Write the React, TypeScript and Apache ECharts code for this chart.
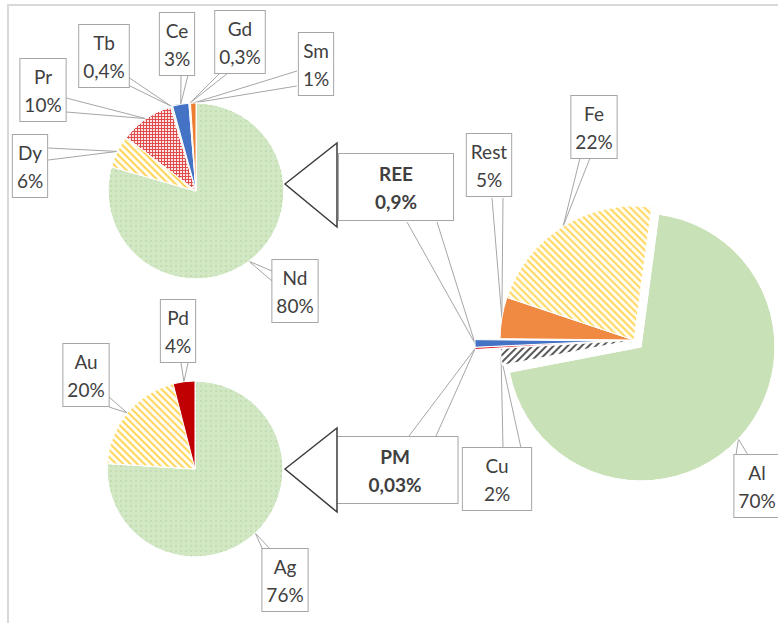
import React, { useEffect, useRef } from 'react';
import * as echarts from 'echarts';

// Rare earth elements split
const reeNames = ['Nd', 'Dy', 'Pr', 'Tb', 'Ce', 'Gd', 'Sm'];
const reeValues = [80, 6, 10, 0.4, 3, 0.3, 1];

// Precious metals split
const pmNames = ['Ag', 'Au', 'Pd'];
const pmValues = [76, 20, 4];

// Overall scrap composition
const scrapNames = ['Al', 'Cu', 'PM', 'REE', 'Rest', 'Fe'];
const scrapValues = [70, 2, 0.03, 0.9, 5, 22];

// Callout box centres in pixels
const calloutPos: Record<string, [number, number]> = {
  Nd: [295, 291], Dy: [30, 166], Pr: [43, 90], Tb: [104, 56], Ce: [177, 44], Gd: [240, 42], Sm: [316, 64],
  Ag: [285, 580], Au: [86, 375], Pd: [178, 331],
  Al: [757, 486], Cu: [497, 479], PM: [395, 470], REE: [396, 187], Rest: [489, 165], Fe: [594, 127],
};

// Where the two sides of each callout pointer meet the callout box
const pointerBase: Record<string, [[number, number], [number, number]]> = {
  Tb: [[128, 76], [128, 84]],
  Pr: [[66, 98], [66, 112]],
  Dy: [[48, 148], [48, 160]],
  Ce: [[181, 74], [188, 74]],
  Gd: [[220, 72], [228, 72]],
  Sm: [[297, 70], [297, 86]],
  Nd: [[272, 272], [272, 282]],
  Pd: [[181, 362], [188, 362]],
  Au: [[109, 396], [109, 406]],
  Ag: [[263, 551], [271, 551]],
  REE: [[407, 221], [437, 221]],
  PM: [[409, 437], [436, 437]],
  Rest: [[492, 197], [503, 197]],
  Cu: [[503, 449], [521, 449]],
  Fe: [[580, 157], [590, 157]],
  Al: [[736, 456], [748, 456]],
};

const stripes = (color: string, rotation: number, w = 2, gap = 3) => ({
  symbol: 'rect', color, dashArrayX: [1, 0], dashArrayY: [w, gap], rotation,
});

const greenFine = { symbol: 'rect', color: 'rgba(120,180,90,0.18)', dashArrayX: [2, 3], dashArrayY: [2, 3] };

const sliceStyle: Record<string, any> = {
  Nd: { color: '#d2e8c4', decal: greenFine },
  Dy: { color: '#fffdf4', decal: stripes('#ffd65c', Math.PI / 4) },
  Pr: { color: '#e04c4c', decal: { symbol: 'rect', color: 'rgba(255,255,255,0.85)', dashArrayX: [2, 1], dashArrayY: [2, 1] } },
  Tb: { color: '#f0f0f0' },
  Ce: { color: '#4472c4' },
  Gd: { color: '#fbfbfb' },
  Sm: { color: '#ed7d31' },
  Ag: { color: '#d2e8c4', decal: greenFine },
  Au: { color: '#fffdf4', decal: stripes('#ffd65c', Math.PI / 4) },
  Pd: { color: '#c00000' },
  Al: { color: '#c8e1b7', decal: { symbol: 'rect', color: 'rgba(110,175,80,0.3)', dashArrayX: [[6, 8]], dashArrayY: [[4, 9]] } },
  Cu: { color: '#ffffff', decal: stripes('#5a5a5a', -Math.PI / 4, 2, 3) },
  PM: { color: '#e0303a' },
  REE: { color: '#4472c4' },
  Rest: { color: '#f08a42' },
  Fe: { color: '#fffcee', decal: stripes('#ffd966', Math.PI / 4, 1.5, 3) },
};

const boldNames = ['REE', 'PM'];
const fmtPct = (v: number) => `${String(v).replace('.', ',')}%`;

interface PieOpts {
  center: [number, number];
  radius: number;
  startAngle: number;
  visible?: string[];
  minAngle?: number;
}

const hiddenItem = (name: string, value: number) => ({
  name,
  value,
  itemStyle: { color: 'rgba(0,0,0,0)', borderWidth: 0, decal: 'none' },
  label: { show: false },
  labelLine: { show: false },
});

// mode 'main' draws slices and callout boxes; 0 / 1 draw one side of each callout pointer
function pieSeries(names: string[], values: number[], o: PieOpts, mode: 'main' | 0 | 1) {
  const shown = (n: string) => !o.visible || o.visible.includes(n);
  const main = mode === 'main';
  return {
    type: 'pie',
    z: main ? 3 : 2,
    center: o.center,
    radius: o.radius,
    startAngle: o.startAngle,
    clockwise: true,
    minAngle: o.minAngle || 0,
    silent: true,
    avoidLabelOverlap: false,
    selectedMode: false,
    label: main
      ? {
          show: true,
          position: 'outside',
          formatter: (p: any) => `${p.name}\n${fmtPct(p.value)}`,
          color: '#404040',
          fontFamily: 'Lato',
          fontSize: 19,
          lineHeight: 28,
          backgroundColor: '#ffffff',
          borderColor: '#a6a6a6',
          borderWidth: 1,
          padding: [4, 4, 2, 4],
          align: 'center',
        }
      : {
          show: true,
          position: 'outside',
          formatter: ' ',
          color: 'rgba(0,0,0,0)',
          fontSize: 2,
          lineHeight: 2,
          padding: 0,
        },
    labelLine: {
      show: !main,
      length: 4,
      length2: 0,
      smooth: false,
      lineStyle: { color: '#a6a6a6', width: 1 },
    },
    labelLayout: (p: any) => {
      const name = names[p.dataIndex];
      if (main) {
        const pos = calloutPos[name];
        if (!pos) return {};
        return { x: pos[0], y: pos[1], align: 'center', verticalAlign: 'middle' };
      }
      const base = pointerBase[name];
      if (!base) return {};
      const pt = base[mode as number];
      return { x: pt[0], y: pt[1], align: 'center', verticalAlign: 'middle' };
    },
    data: names.map((n, i) => {
      if (!shown(n)) return hiddenItem(n, values[i]);
      if (!main) {
        return {
          name: n,
          value: values[i],
          itemStyle: { color: 'rgba(0,0,0,0)', borderWidth: 0, decal: 'none' },
        };
      }
      const bold = boldNames.includes(n);
      let label: any;
      if (bold) label = { fontWeight: 'bold', padding: [6, 36, 4, 36], color: '#404040' };
      else if (n === 'Cu') label = { padding: [4, 21, 2, 21] };
      return {
        name: n,
        value: values[i],
        itemStyle: { ...sliceStyle[n], borderColor: '#ffffff', borderWidth: 1 },
        label,
      };
    }),
  };
}

function withPointers(names: string[], values: number[], o: PieOpts) {
  return [
    pieSeries(names, values, o, 0),
    pieSeries(names, values, o, 1),
    pieSeries(names, values, o, 'main'),
  ];
}

export default function App() {
  const ref = useRef<HTMLDivElement>(null);

  useEffect(() => {
    if (!ref.current) return;
    const chart = echarts.init(ref.current, undefined, { renderer: 'svg' });

    const bigStart = 82.4;
    const bigR = 134;

    chart.setOption({
      animation: false,
      backgroundColor: '#ffffff',
      graphic: [
        {
          type: 'rect', z: -10, silent: true,
          shape: { x: 8, y: 5, width: 820, height: 700 },
          style: { fill: 'none', stroke: '#d9d9d9', lineWidth: 2 },
        },
        {
          type: 'polygon', z: 100, silent: true,
          shape: { points: [[285, 184], [337, 143], [337, 227]] },
          style: { fill: '#ffffff', stroke: '#3c3c3c', lineWidth: 1.5 },
        },
        {
          type: 'polygon', z: 100, silent: true,
          shape: { points: [[285, 469], [337, 428], [337, 512]] },
          style: { fill: '#ffffff', stroke: '#3c3c3c', lineWidth: 1.5 },
        },
      ],
      series: [
        ...withPointers(reeNames, reeValues, { center: [196, 191], radius: 88, startAngle: 90 }),
        ...withPointers(pmNames, pmValues, { center: [195, 469], radius: 88, startAngle: 90 }),
        // Al slice pulled out towards the lower right
        ...withPointers(scrapNames, scrapValues, {
          center: [641, 347], radius: bigR, startAngle: bigStart, minAngle: 1, visible: ['Al'],
        }),
        ...withPointers(scrapNames, scrapValues, {
          center: [634, 340], radius: bigR, startAngle: bigStart, minAngle: 1, visible: ['Cu', 'Rest', 'Fe'],
        }),
        // REE and PM slices pulled out to the left
        ...withPointers(scrapNames, scrapValues, {
          center: [609, 341], radius: bigR, startAngle: bigStart, minAngle: 1, visible: ['PM', 'REE'],
        }),
      ],
    });

    return () => chart.dispose();
  }, []);

  return (
    <div
      ref={ref}
      style={{ position: 'fixed', left: 0, top: 0, width: 778, height: 623, background: '#fff' }}
    />
  );
}
